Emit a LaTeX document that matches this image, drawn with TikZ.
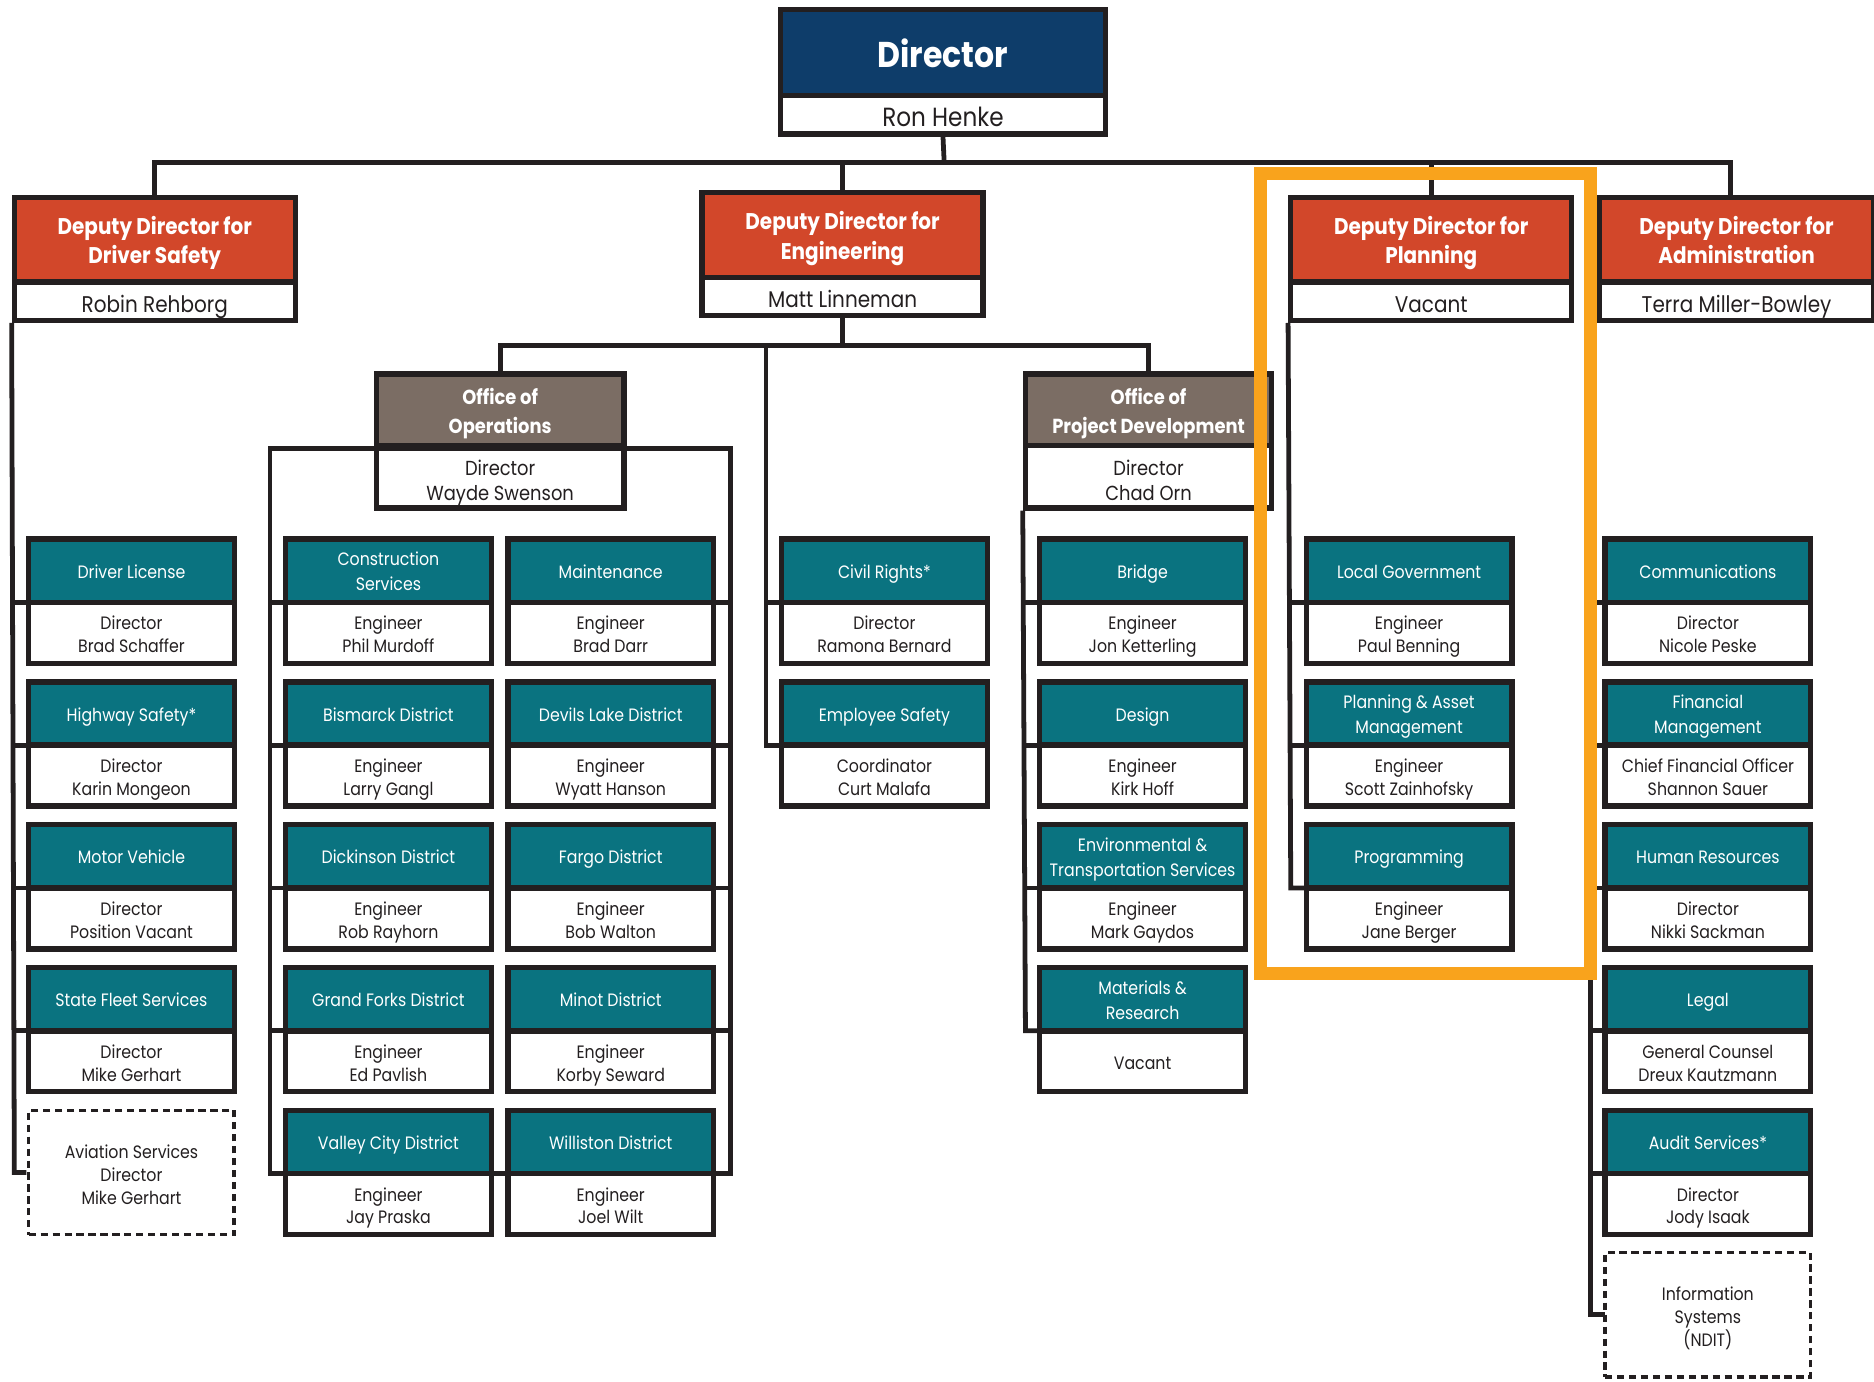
\documentclass[tikz,border=0pt]{standalone}
\usepackage{fontspec}
\setmainfont{Poppins}[FakeStretch=0.88]
\definecolor{cnavy}{HTML}{0E3D6A}
\definecolor{cred}{HTML}{D2472A}
\definecolor{cteal}{HTML}{0A7380}
\definecolor{cbrown}{HTML}{7B6D64}
\definecolor{corange}{HTML}{F9A31C}
\definecolor{cln}{HTML}{231F20}
\def\myts{0pt}
\newcommand\tx[1]{\raisebox{-\myts}[\height][\depth]{\begin{tabular}{@{}c@{}}#1\end{tabular}}}
\newcommand\orgunit[5]{%
  \pgfmathsetmacro\hy{477.5+119.5*#3}%
  \pgfmathsetmacro\by{529.5+119.5*#3}%
  \node[hdr] (#1-h) at (#2,\hy) {\tx{#4}};
  \node[bdy] (#1-b) at (#2,\by) {\tx{#5}};
}
\begin{document}
\begin{tikzpicture}[x=0.5pt,y=-0.5pt,
  ts/.store in=\myts,
  bx/.style={draw=cln, line width=2.25pt, inner sep=0pt, align=center},
  hdr/.style={bx, fill=cteal, text=white, minimum width=86pt, minimum height=26.5pt, font=\fontsize{7.5}{10.5}\selectfont, ts=1.1pt},
  bdy/.style={bx, fill=white, text=cln, minimum width=86pt, minimum height=25.5pt, font=\fontsize{7.5}{9.5}\selectfont, ts=1.6pt},
  deph/.style={bx, fill=cred, text=white, minimum width=117.5pt, minimum height=35.5pt, font=\fontsize{9.5}{12.5}\selectfont\bfseries, ts=1.4pt},
  depb/.style={bx, fill=white, text=cln, minimum width=117.5pt, minimum height=16pt, font=\fontsize{9.5}{11}\selectfont, ts=2.5pt},
  offh/.style={bx, fill=cbrown, text=white, minimum width=103.5pt, minimum height=30pt, font=\fontsize{8.5}{12}\selectfont\bfseries, ts=1.3pt},
  offb/.style={bx, fill=white, text=cln, minimum width=103.5pt, minimum height=26pt, font=\fontsize{8.5}{10.5}\selectfont, ts=2.6pt},
  dashbox/.style={draw=cln, line width=1.5pt, dash pattern=on 3pt off 2pt, inner sep=0pt, align=center, text=cln, minimum width=86pt, minimum height=52pt, font=\fontsize{7.5}{9.5}\selectfont, ts=1.8pt},
  conn/.style={draw=cln, line width=2pt},
]
\useasboundingbox (0,0) rectangle (1568,1156);
\fill[white] (0,0) rectangle (1568,1156);

% coordinates for connector routing
\coordinate (bar) at (790,136);
\coordinate (admstem) at (1448,136);
\coordinate (engbar) at (705,289);
\coordinate (mid) at (641,289);
\coordinate (opsL) at (226,0);
\coordinate (opsR) at (611,0);
\coordinate (admL) at (1331,268);

% ---------- top nodes ----------
\node[bx, fill=cnavy, text=white, minimum width=136pt, minimum height=36pt, font=\fontsize{15}{18}\selectfont\bfseries, ts=2.5pt] (dir-h) at (789,44) {\tx{Director}};
\node[bx, fill=white, text=cln, minimum width=136pt, minimum height=16pt, font=\fontsize{11}{13}\selectfont, ts=2.5pt] (dir-b) at (789,96) {\tx{Ron Henke}};

\node[deph] (ds-h) at (129.5,200.5) {\tx{Deputy Director for\\Driver Safety}};
\node[depb] (ds-b) at (129.5,252) {\tx{Robin Rehborg}};
\node[deph] (eng-h) at (705,196.5) {\tx{Deputy Director for\\Engineering}};
\node[depb] (eng-b) at (705,248) {\tx{Matt Linneman}};
\node[deph] (plan-h) at (1197.5,200.5) {\tx{Deputy Director for\\Planning}};
\node[depb] (plan-b) at (1197.5,252) {\tx{Vacant}};
\node[deph, minimum width=115pt] (adm-h) at (1453,200.5) {\tx{Deputy Director for\\Administration}};
\node[depb, minimum width=115pt] (adm-b) at (1453,252) {\tx{Terra Miller-Bowley}};

\node[offh] (ops-h) at (418.5,343) {\tx{Office of\\Operations}};
\node[offb] (ops-b) at (418.5,399) {\tx{Director\\Wayde Swenson}};
\node[offh, minimum width=103pt] (opd-h) at (961,343) {\tx{Office of\\Project Development}};
\node[offb, minimum width=103pt] (opd-b) at (961,399) {\tx{Director\\Chad Orn}};

% ---------- connectors ----------
\draw[conn] (dir-b.south) -- (bar);
\draw[conn] (ds-h.north) -- (ds-h.north |- bar) -- (admstem) -- (admstem |- adm-h.north);
\draw[conn] (eng-h.north) -- (eng-h.north |- bar);
\draw[conn] (plan-h.north) -- (plan-h.north |- bar);
\draw[conn] (eng-b.south) -- (engbar);
\draw[conn] (ops-h.north) -- (ops-h.north |- engbar) -- (opd-h.north |- engbar) -- (opd-h.north);

% Driver safety column
\draw[conn] (ds-b.south west) -- (12,981) -- (22,981);
\foreach \r in {504,623.5,743,862.5} \draw[conn] (12,\r) -- (22,\r);
% Operations bracket
\draw[conn] (ops-h.south -| opsL) rectangle (611,982);
\foreach \r in {504,623.5,743,862.5} {\draw[conn] (226,\r) -- (239,\r); \draw[conn] (597,\r) -- (611,\r);}
% middle column
\draw[conn] (mid) -- (641,623.5) -- (654,623.5);
\draw[conn] (641,504) -- (654,504);
% project development column
\draw[conn] (opd-b.south west) -- (858,862.5) -- (870,862.5);
\foreach \r in {504,623.5,743} \draw[conn] (858,\r) -- (870,\r);
% planning column
\draw[conn] (plan-b.south west) -- (1080,743) -- (1092,743);
\foreach \r in {504,623.5} \draw[conn] (1080,\r) -- (1092,\r);
% administration column
\draw[conn] (admL) -- (1331,1100) -- (1343,1100);
\foreach \r in {504,623.5,743,862.5,982} \draw[conn] (1331,\r) -- (1343,\r);

% ---------- unit boxes ----------
\orgunit{dl}{110}{0}{Driver License}{Director\\Brad Schaffer}
\orgunit{hs}{110}{1}{Highway Safety*}{Director\\Karin Mongeon}
\orgunit{mv}{110}{2}{Motor Vehicle}{Director\\Position Vacant}
\orgunit{sf}{110}{3}{State Fleet Services}{Director\\Mike Gerhart}
\node[dashbox, fill=white] (av) at (110,981) {\tx{Aviation Services\\Director\\Mike Gerhart}};

\orgunit{cs}{325}{0}{Construction\\Services}{Engineer\\Phil Murdoff}
\orgunit{bis}{325}{1}{Bismarck District}{Engineer\\Larry Gangl}
\orgunit{dk}{325}{2}{Dickinson District}{Engineer\\Rob Rayhorn}
\orgunit{gf}{325}{3}{Grand Forks District}{Engineer\\Ed Pavlish}
\orgunit{vc}{325}{4}{Valley City District}{Engineer\\Jay Praska}

\orgunit{mt}{511}{0}{Maintenance}{Engineer\\Brad Darr}
\orgunit{dld}{511}{1}{Devils Lake District}{Engineer\\Wyatt Hanson}
\orgunit{fg}{511}{2}{Fargo District}{Engineer\\Bob Walton}
\orgunit{mn}{511}{3}{Minot District}{Engineer\\Korby Seward}
\orgunit{wl}{511}{4}{Williston District}{Engineer\\Joel Wilt}

\orgunit{cr}{740}{0}{Civil Rights*}{Director\\Ramona Bernard}
\orgunit{es}{740}{1}{Employee Safety}{Coordinator\\Curt Malafa}

\orgunit{br}{956}{0}{Bridge}{Engineer\\Jon Ketterling}
\orgunit{dsn}{956}{1}{Design}{Engineer\\Kirk Hoff}
\orgunit{env}{956}{2}{Environmental \&\\Transportation Services}{Engineer\\Mark Gaydos}
\orgunit{mat}{956}{3}{Materials \&\\Research}{Vacant}

\orgunit{lg}{1179}{0}{Local Government}{Engineer\\Paul Benning}
\orgunit{pam}{1179}{1}{Planning \& Asset\\Management}{Engineer\\Scott Zainhofsky}
\orgunit{prog}{1179}{2}{Programming}{Engineer\\Jane Berger}

\orgunit{com}{1429}{0}{Communications}{Director\\Nicole Peske}
\orgunit{fin}{1429}{1}{Financial\\Management}{Chief Financial Officer\\Shannon Sauer}
\orgunit{hr}{1429}{2}{Human Resources}{Director\\Nikki Sackman}
\orgunit{leg}{1429}{3}{Legal}{General Counsel\\Dreux Kautzmann}
\orgunit{aud}{1429}{4}{Audit Services*}{Director\\Jody Isaak}
\node[dashbox, fill=white] (is) at (1429,1100) {\tx{Information\\Systems\\(NDIT)}};

% ---------- highlight ----------
\draw[corange, line width=5.5pt] (1054.5,145.5) rectangle (1330.5,814.5);
\end{tikzpicture}
\end{document}
